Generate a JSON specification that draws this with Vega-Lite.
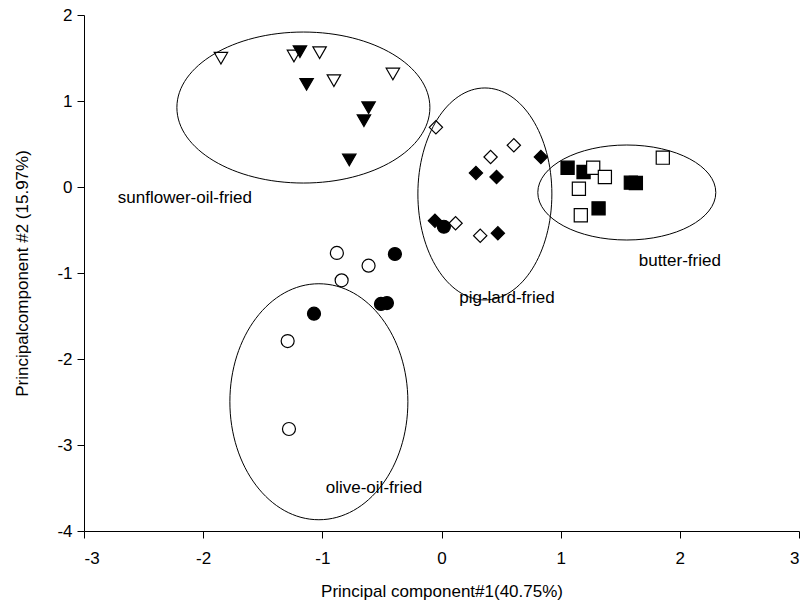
{
  "$schema": "https://vega.github.io/schema/vega-lite/v6.json",
  "width": 715,
  "height": 516,
  "autosize": "none",
  "padding": {"left": 84, "top": 15, "right": 7, "bottom": 80},
  "background": "white",
  "config": {
    "view": {"stroke": null},
    "font": "Liberation Sans",
    "axis": {
      "grid": false,
      "domainColor": "black",
      "domainWidth": 1,
      "tickColor": "black",
      "tickWidth": 1,
      "tickSize": 7,
      "labelColor": "black",
      "labelFont": "Liberation Sans",
      "labelFontSize": 17,
      "titleColor": "black",
      "titleFont": "Liberation Sans",
      "titleFontSize": 17,
      "titleFontWeight": "normal"
    }
  },
  "layer": [
    {
      "data": {"values": [
        {"g": "sunflower", "t": "open", "x": -1.851, "y": 1.497},
        {"g": "sunflower", "t": "open", "x": -1.238, "y": 1.523},
        {"g": "sunflower", "t": "filled", "x": -1.188, "y": 1.573},
        {"g": "sunflower", "t": "open", "x": -1.023, "y": 1.562},
        {"g": "sunflower", "t": "open", "x": -0.903, "y": 1.236},
        {"g": "sunflower", "t": "filled", "x": -1.132, "y": 1.194},
        {"g": "sunflower", "t": "open", "x": -0.408, "y": 1.314},
        {"g": "sunflower", "t": "filled", "x": -0.612, "y": 0.922},
        {"g": "sunflower", "t": "filled", "x": -0.651, "y": 0.771},
        {"g": "sunflower", "t": "filled", "x": -0.774, "y": 0.314},
        {"g": "pig", "t": "open", "x": -0.047, "y": 0.694},
        {"g": "pig", "t": "open", "x": 0.607, "y": 0.485},
        {"g": "pig", "t": "open", "x": 0.412, "y": 0.349},
        {"g": "pig", "t": "filled", "x": 0.834, "y": 0.349},
        {"g": "pig", "t": "filled", "x": 0.289, "y": 0.163},
        {"g": "pig", "t": "filled", "x": 0.462, "y": 0.116},
        {"g": "pig", "t": "filled", "x": -0.055, "y": -0.392},
        {"g": "pig", "t": "open", "x": 0.118, "y": -0.422},
        {"g": "pig", "t": "open", "x": 0.325, "y": -0.566},
        {"g": "pig", "t": "filled", "x": 0.473, "y": -0.538},
        {"g": "butter", "t": "filled", "x": 1.058, "y": 0.224},
        {"g": "butter", "t": "filled", "x": 1.192, "y": 0.174},
        {"g": "butter", "t": "open", "x": 1.273, "y": 0.224},
        {"g": "butter", "t": "open", "x": 1.371, "y": 0.116},
        {"g": "butter", "t": "open", "x": 1.857, "y": 0.341},
        {"g": "butter", "t": "filled", "x": 1.589, "y": 0.05},
        {"g": "butter", "t": "filled", "x": 1.631, "y": 0.047},
        {"g": "butter", "t": "open", "x": 1.153, "y": -0.02},
        {"g": "butter", "t": "filled", "x": 1.318, "y": -0.248},
        {"g": "butter", "t": "open", "x": 1.169, "y": -0.329},
        {"g": "olive", "t": "filled", "x": 0.02, "y": -0.462},
        {"g": "olive", "t": "open", "x": -0.878, "y": -0.767},
        {"g": "olive", "t": "filled", "x": -0.391, "y": -0.779},
        {"g": "olive", "t": "open", "x": -0.612, "y": -0.915},
        {"g": "olive", "t": "open", "x": -0.838, "y": -1.085},
        {"g": "olive", "t": "filled", "x": -0.508, "y": -1.36},
        {"g": "olive", "t": "filled", "x": -0.458, "y": -1.35},
        {"g": "olive", "t": "filled", "x": -1.07, "y": -1.473},
        {"g": "olive", "t": "open", "x": -1.291, "y": -1.791},
        {"g": "olive", "t": "open", "x": -1.28, "y": -2.814}
      ]},
      "mark": {"type": "point", "filled": true, "stroke": "black", "strokeWidth": 1.2, "opacity": 1},
      "encoding": {
        "x": {
          "field": "x", "type": "quantitative",
          "scale": {"domain": [-3, 3], "nice": false, "zero": false},
          "axis": {"values": [-3, -2, -1, 0, 1, 2, 3], "labelExpr": "'' + datum.value", "title": "Principal component#1(40.75%)", "labelPadding": 12, "titlePadding": 17}
        },
        "y": {
          "field": "y", "type": "quantitative",
          "scale": {"domain": [-4, 2], "nice": false, "zero": false},
          "axis": {"values": [-4, -3, -2, -1, 0, 1, 2], "labelExpr": "'' + datum.value", "title": "Principalcomponent #2 (15.97%)", "labelPadding": 5, "titlePadding": 25}
        },
        "shape": {
          "field": "g", "type": "nominal", "legend": null,
          "scale": {"domain": ["sunflower", "pig", "butter", "olive"], "range": ["triangle-down", "diamond", "square", "circle"]}
        },
        "size": {
          "field": "g", "type": "nominal", "legend": null,
          "scale": {"domain": ["sunflower", "pig", "butter", "olive"], "range": [180, 169, 121, 144]}
        },
        "fill": {
          "field": "t", "type": "nominal", "legend": null,
          "scale": {"domain": ["filled", "open"], "range": ["black", "white"]}
        }
      }
    },
    {
      "data": {"values": [{"x": -1.159, "y": 0.924}]},
      "mark": {"type": "point", "shape": "M -126.5 0 A 126.5 75.5 0 1 1 126.5 0 A 126.5 75.5 0 1 1 -126.5 0 Z", "size": 4, "filled": false, "stroke": "black", "strokeWidth": 1, "opacity": 1},
      "encoding": {"x": {"field": "x", "type": "quantitative"}, "y": {"field": "y", "type": "quantitative"}}
    },
    {
      "data": {"values": [{"x": 0.364, "y": -0.081}]},
      "mark": {"type": "point", "shape": "M -67 0 A 67 106 0 1 1 67 0 A 67 106 0 1 1 -67 0 Z", "size": 4, "filled": false, "stroke": "black", "strokeWidth": 1, "opacity": 1},
      "encoding": {"x": {"field": "x", "type": "quantitative"}, "y": {"field": "y", "type": "quantitative"}}
    },
    {
      "data": {"values": [{"x": 1.555, "y": -0.064}]},
      "mark": {"type": "point", "shape": "M -89 0 A 89 47.5 0 1 1 89 0 A 89 47.5 0 1 1 -89 0 Z", "size": 4, "filled": false, "stroke": "black", "strokeWidth": 1, "opacity": 1},
      "encoding": {"x": {"field": "x", "type": "quantitative"}, "y": {"field": "y", "type": "quantitative"}}
    },
    {
      "data": {"values": [{"x": -1.029, "y": -2.497}]},
      "mark": {"type": "point", "shape": "M -89 0 A 89 118 0 1 1 89 0 A 89 118 0 1 1 -89 0 Z", "size": 4, "filled": false, "stroke": "black", "strokeWidth": 1, "opacity": 1},
      "encoding": {"x": {"field": "x", "type": "quantitative"}, "y": {"field": "y", "type": "quantitative"}}
    },
    {
      "data": {"values": [
        {"label": "sunflower-oil-fried", "x": -2.153, "y": -0.128},
        {"label": "pig-lard-fried", "x": 0.549, "y": -1.29},
        {"label": "butter-fried", "x": 2.0, "y": -0.86},
        {"label": "olive-oil-fried", "x": -0.567, "y": -3.5}
      ]},
      "mark": {"type": "text", "font": "Liberation Sans", "fontSize": 17, "color": "black", "align": "center", "baseline": "middle"},
      "encoding": {
        "x": {"field": "x", "type": "quantitative"},
        "y": {"field": "y", "type": "quantitative"},
        "text": {"field": "label"}
      }
    }
  ]
}
